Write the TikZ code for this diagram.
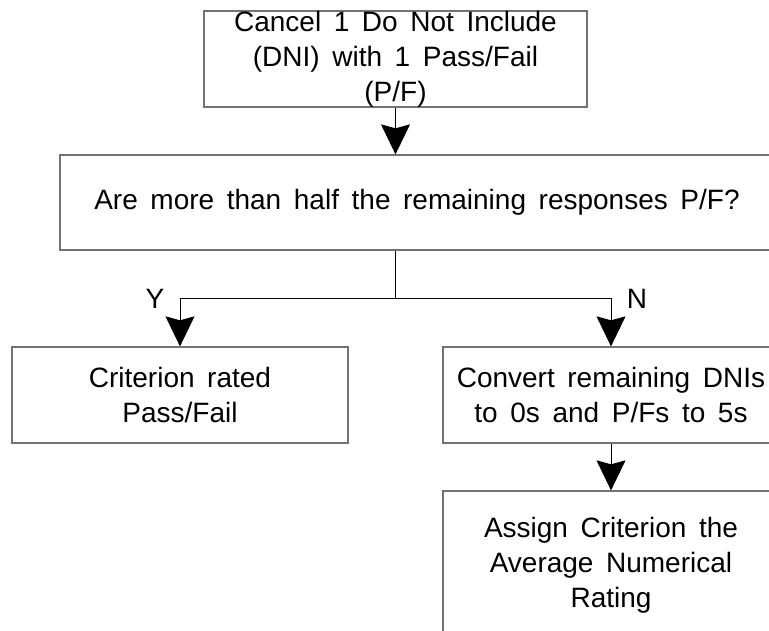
\documentclass[tikz,border=0pt]{standalone}
\usepackage{fontspec}
\setmainfont{Liberation Sans}
\usetikzlibrary{arrows.meta}
\newcommand\wordgap{\spaceskip=0.45em\relax}
\tikzset{
  stepbox/.style={draw=black!55, line width=1.3pt, inner sep=0pt, align=center,
    minimum width=336pt, minimum height=96pt,
    font={\fontsize{28}{35}\selectfont\wordgap}},
  flow/.style={line width=0.9pt, -{Stealth[length=30pt, width=29pt, inset=4pt]}},
  answer/.style={text=black, font=\fontsize{28}{35}\selectfont}
}

\begin{document}
\begin{tikzpicture}[x=1pt, y=-1pt]
      \useasboundingbox (0,0) rectangle (769,631);
      \clip (0,0) rectangle (769,631);

      % Boxes
      \begin{scope}
        % Cancel
        \node[stepbox, minimum width=383pt] (cancel) at (395.5,59) {Cancel 1 Do Not Include\\(DNI) with 1 Pass/Fail\\(P/F)};

        % Question
        \node[stepbox, minimum width=714pt, minimum height=95pt] (question) at (417,202.5) {Are more than half the remaining responses P/F?};

        % Yes
        \node[stepbox] (rated) at (180,395) {Criterion rated\\Pass/Fail};

        % No
        \node[stepbox] (convert) at (611,395) {Convert remaining DNIs\\to 0s and P/Fs to 5s};

        % Average
        \node[stepbox, minimum height=148pt] (assign) at (611,565) {Assign Criterion the\\Average Numerical\\Rating};
      \end{scope}

      % Arrows
      \draw[flow] (cancel.south) -- (cancel.south |- question.north);
      \draw[line width=0.9pt] (cancel.south |- question.south) -- ++(0,48) coordinate (split);
      \draw[flow] (split) -| node[answer, pos=0.5, anchor=east, xshift=-12pt] (yes) {Y} (rated.north);
      \draw[flow] (split) -| node[answer, pos=0.5, anchor=west, xshift=12pt] (no) {N} (convert.north);
      \draw[flow] (convert.south) -- (assign.north);

    \end{tikzpicture}
\end{document}
